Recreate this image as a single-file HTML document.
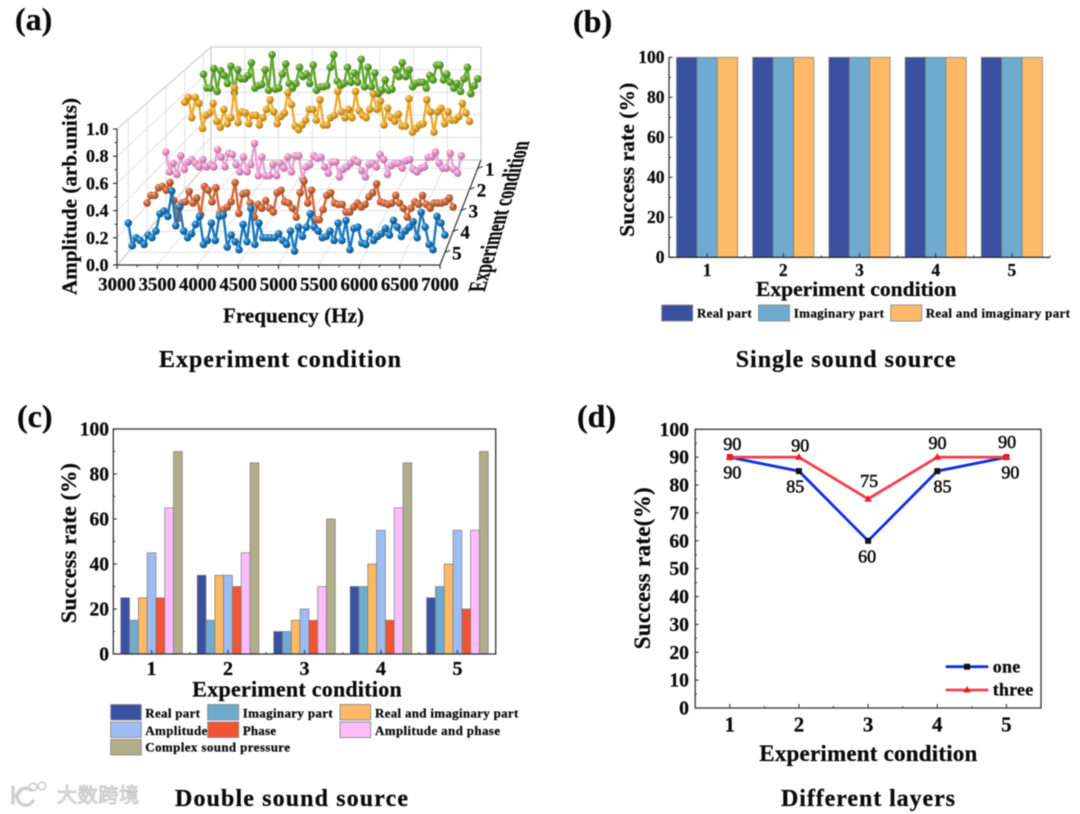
<!DOCTYPE html>
<html lang="en">
<head>
<meta charset="utf-8">
<title>Sound source experiment charts</title>
<style>
html,body{margin:0;padding:0;background:#fff;width:1080px;height:814px;overflow:hidden}
svg{display:block;filter:blur(.55px)}
text{font-family:"Liberation Serif","Noto Sans CJK SC",serif;font-weight:bold;fill:#0a0a0a;stroke:#0a0a0a;stroke-width:.25}
</style>
</head>
<body>
<svg id="figure" xmlns="http://www.w3.org/2000/svg" width="1080" height="814" viewBox="0 0 1080 814">
<defs>
<radialGradient id="ball-blue" cx="35%" cy="30%" r="75%"><stop offset="0" stop-color="#8cc8f0"/><stop offset=".4" stop-color="#1a78bd"/><stop offset="1" stop-color="#0d4f86"/></radialGradient>
<radialGradient id="ball-orange" cx="35%" cy="30%" r="75%"><stop offset="0" stop-color="#f0b090"/><stop offset=".4" stop-color="#cc6a3c"/><stop offset="1" stop-color="#94431f"/></radialGradient>
<radialGradient id="ball-pink" cx="35%" cy="30%" r="75%"><stop offset="0" stop-color="#fbdcf0"/><stop offset=".4" stop-color="#e595c8"/><stop offset="1" stop-color="#b9689c"/></radialGradient>
<radialGradient id="ball-yellow" cx="35%" cy="30%" r="75%"><stop offset="0" stop-color="#f8d890"/><stop offset=".4" stop-color="#e6a52a"/><stop offset="1" stop-color="#a87410"/></radialGradient>
<radialGradient id="ball-green" cx="35%" cy="30%" r="75%"><stop offset="0" stop-color="#c0e090"/><stop offset=".4" stop-color="#62a830"/><stop offset="1" stop-color="#3e7a18"/></radialGradient>
</defs>

<g id="panel-a">
  <text x="15" y="30" font-size="32">(a)</text>
  <g id="a-grid"></g>
  <g id="a-axes"></g>
  <g id="a-series"></g>
  <text transform="translate(76.5,295) rotate(-90)" font-size="21" textLength="197">Amplitude (arb.units)</text>
  <text x="223" y="322.5" font-size="21" textLength="141">Frequency (Hz)</text>
  <text transform="matrix(.287 -.958 1.18 0 484.5 291.7)" font-size="21" textLength="157" lengthAdjust="spacingAndGlyphs">Experiment condition</text>
  <text x="159" y="367" font-size="24" textLength="242">Experiment condition</text>
</g>

<g id="panel-b">
  <text x="573" y="32" font-size="32">(b)</text>
  <g id="b-plot"></g>
  <text transform="translate(634,236.7) rotate(-90)" font-size="21.5" textLength="154">Success rate (%)</text>
  <text x="756" y="296" font-size="21.5" textLength="200.5">Experiment condition</text>
  <g>
    <rect x="661.7" y="305" width="31" height="16" fill="#3a50a0" stroke="#8a8a8a" stroke-width=".9"/>
    <text x="697" y="317.7" font-size="13" textLength="54.7">Real part</text>
    <rect x="758.5" y="305" width="31" height="16" fill="#6eabcf" stroke="#8a8a8a" stroke-width=".9"/>
    <text x="793.7" y="317.7" font-size="13" textLength="90.3">Imaginary part</text>
    <rect x="890.7" y="305" width="31" height="16" fill="#fdb966" stroke="#8a8a8a" stroke-width=".9"/>
    <text x="925.7" y="317.7" font-size="13" textLength="144.3">Real and imaginary part</text>
  </g>
  <text x="735.7" y="367" font-size="24" textLength="220">Single sound source</text>
</g>

<g id="panel-c">
  <text x="17" y="427" font-size="32">(c)</text>
  <g id="c-plot"></g>
  <text transform="translate(76,623.3) rotate(-90)" font-size="22.5" textLength="160.3">Success rate (%)</text>
  <text x="192.3" y="696.7" font-size="22" textLength="209.4">Experiment condition</text>
  <g>
    <rect x="110.7" y="704.5" width="30.6" height="15.5" fill="#3a50a0" stroke="#8a8a8a" stroke-width=".9"/>
    <text x="145.3" y="717.3" font-size="13" textLength="54.7">Real part</text>
    <rect x="207.7" y="704.5" width="31" height="15.5" fill="#6eabcf" stroke="#8a8a8a" stroke-width=".9"/>
    <text x="242.7" y="717.3" font-size="13" textLength="90">Imaginary part</text>
    <rect x="340" y="704.5" width="30.7" height="15.5" fill="#fdb966" stroke="#8a8a8a" stroke-width=".9"/>
    <text x="375" y="717.3" font-size="13" textLength="143.3">Real and imaginary part</text>
    <rect x="110.7" y="722" width="30.6" height="15.5" fill="#9dbdf2" stroke="#8a8a8a" stroke-width=".9"/>
    <text x="145.3" y="735" font-size="13" textLength="62">Amplitude</text>
    <rect x="207.7" y="722" width="31" height="15.5" fill="#ef5533" stroke="#8a8a8a" stroke-width=".9"/>
    <text x="242.7" y="735" font-size="13" textLength="33.3">Phase</text>
    <rect x="340" y="722" width="30.7" height="15.5" fill="#fdbdfd" stroke="#8a8a8a" stroke-width=".9"/>
    <text x="375" y="735" font-size="13" textLength="125">Amplitude and phase</text>
    <rect x="110.7" y="739.5" width="30.6" height="15.5" fill="#b0ae8a" stroke="#8a8a8a" stroke-width=".9"/>
    <text x="145.3" y="751.7" font-size="13" textLength="144.7">Complex sound pressure</text>
  </g>
  <text x="175" y="806" font-size="24" textLength="233">Double sound source</text>
</g>

<g id="panel-d">
  <text x="577" y="427" font-size="32">(d)</text>
  <g id="d-plot"></g>
  <text transform="translate(650,649.3) rotate(-90)" font-size="23" textLength="162">Success rate(%)</text>
  <text x="759.3" y="761" font-size="23" textLength="218">Experiment condition</text>
  <g>
    <line x1="945.7" x2="988.3" y1="666.7" y2="666.7" stroke="#1030e0" stroke-width="2.8"/>
    <rect x="964" y="663.7" width="6" height="6" fill="#111"/>
    <text x="992.7" y="672.7" font-size="18" textLength="27.5">one</text>
    <line x1="945.7" x2="988.3" y1="690" y2="690" stroke="#f04050" stroke-width="2.8"/>
    <path d="M967 686l3.6 6.5h-7.2z" fill="#ee1c25"/>
    <text x="992.7" y="695.7" font-size="18" textLength="40.5">three</text>
  </g>
  <text x="781" y="806" font-size="24" textLength="174">Different layers</text>
</g>

<g>
  <path d="M13 787v16M16 796l6-7M31 790a8.5 8.5 0 1 0 2 11" fill="none" stroke="#cfcfcf" stroke-width="3.4" stroke-linecap="round"/>
  <circle cx="33" cy="787" r="3.8" fill="none" stroke="#cfcfcf" stroke-width="1.6"/>
  <circle cx="42" cy="786" r="3.8" fill="none" stroke="#cfcfcf" stroke-width="1.6"/>
  <text x="57" y="802" font-size="20" textLength="82" style="font-family:'Noto Sans CJK SC',sans-serif;font-weight:normal;fill:#f2f2f2;stroke:#c8c8c8;stroke-width:1">大数跨境</text>
</g>
</svg>

<script>
// ---------- Panel (a) data ----------
const freqStart = 3000;
const freqStep = 50;
const ampTicks = ['0.0','0.2','0.4','0.6','0.8','1.0'];
const freqTicks = [3000,3500,4000,4500,5000,5500,6000,6500,7000];
const conditions = [1,2,3,4,5];
const ampGreen = [.82,.70,.70,.87,.67,.85,.81,.74,.89,.66,.86,.78,.78,.81,.92,.70,.72,.73,.86,.68,.99,.69,.70,.82,.91,.74,.70,.74,.88,.80,.82,.74,.90,.68,.71,.71,.72,.88,.99,.76,.72,.74,.88,.75,.83,.75,.95,.71,.88,.71,.83,.65,.68,.77,.68,.69,.86,.80,.92,.80,.86,.71,.74,.75,.75,.70,.81,.77,.90,.90,.77,.82,.75,.70,.74,.67,.78,.88,.65,.72,.78];
const ampYellow = [.73,.77,.60,.77,.72,.51,.62,.64,.72,.57,.52,.67,.55,.60,.85,.56,.65,.64,.55,.62,.62,.54,.60,.67,.75,.65,.55,.61,.64,.81,.71,.53,.50,.54,.58,.67,.67,.58,.75,.54,.54,.60,.62,.82,.65,.60,.67,.60,.82,.66,.62,.60,.67,.80,.67,.74,.54,.68,.60,.57,.63,.53,.53,.76,.48,.51,.54,.55,.75,.65,.48,.65,.68,.55,.65,.58,.58,.61,.72,.64,.57];
const ampPink = [.47,.31,.38,.29,.44,.33,.39,.41,.38,.35,.41,.35,.37,.35,.49,.43,.35,.46,.45,.37,.31,.43,.31,.37,.54,.28,.43,.28,.28,.37,.28,.38,.34,.43,.31,.44,.44,.26,.35,.37,.44,.42,.43,.35,.30,.39,.39,.27,.33,.35,.38,.41,.39,.32,.27,.37,.38,.35,.45,.41,.29,.36,.38,.38,.34,.40,.41,.33,.31,.34,.35,.43,.43,.47,.38,.34,.34,.46,.33,.30,.44];
const ampOrange = [.22,.28,.28,.34,.35,.32,.38,.24,.10,.22,.23,.31,.22,.26,.13,.35,.32,.23,.34,.14,.17,.19,.23,.38,.14,.29,.30,.22,.11,.21,.18,.24,.18,.15,.30,.32,.23,.22,.18,.11,.30,.39,.22,.32,.09,.09,.17,.28,.30,.22,.21,.21,.15,.15,.19,.22,.19,.21,.27,.30,.37,.23,.22,.21,.22,.28,.22,.18,.11,.18,.23,.21,.28,.21,.18,.22,.22,.22,.23,.26,.19];
const ampBlue = [.22,.05,.11,.09,.06,.13,.11,.16,.29,.31,.27,.46,.20,.34,.16,.11,.14,.21,.27,.06,.09,.22,.09,.27,.28,.04,.13,.08,.02,.21,.08,.33,.06,.22,.11,.11,.11,.11,.14,.09,.06,.16,.01,.19,.12,.19,.29,.19,.16,.11,.12,.16,.09,.22,.09,.24,.02,.18,.19,.07,.06,.15,.09,.12,.14,.18,.13,.24,.19,.12,.16,.19,.23,.11,.30,.19,.06,.02,.27,.22,.13];

// ---------- Panel (b) data ----------
const categories = [1,2,3,4,5];
const singleReal = [100,100,100,100,100];
const singleImaginary = [100,100,100,100,100];
const singleRealImaginary = [100,100,100,100,100];
const singleTicks = [0,20,40,60,80,100];

// ---------- Panel (c) data ----------
const doubleReal = [25,35,10,30,25];
const doubleImaginary = [15,15,10,30,30];
const doubleRealImaginary = [25,35,15,40,40];
const doubleAmplitude = [45,35,20,55,55];
const doublePhase = [25,30,15,15,20];
const doubleAmplitudePhase = [65,45,30,65,55];
const doubleComplex = [90,85,60,85,90];
const doubleTicks = [0,20,40,60,80,100];

// ---------- Panel (d) data ----------
const layersOne = [90,85,60,85,90];
const layersThree = [90,90,75,90,90];
const layerTicks = [0,10,20,30,40,50,60,70,80,90,100];

const NS = 'http://www.w3.org/2000/svg';
function add(parent, tag, attrs, text) {
  const el = document.createElementNS(NS, tag);
  for (const k in attrs) el.setAttribute(k, attrs[k]);
  if (text !== undefined) el.textContent = text;
  parent.appendChild(el);
  return el;
}

// ---------- Panel (a) projection ----------
const P = {fl:117, fr:440, bl:211, br:481, fy:265, by:160, fh:136, bh:113};
const depthOf = c => 0.12 + 0.2 * (5 - c);
const lerp = (a, b, t) => a + (b - a) * t;
const leftAt = t => lerp(P.fl, P.bl, t);
const rightAt = t => lerp(P.fr, P.br, t);
const baseAt = t => lerp(P.fy, P.by, t);
const heightAt = t => lerp(P.fh, P.bh, t);
const projX = (f, t) => lerp(leftAt(t), rightAt(t), (f - 3000) / 4000);
const projY = (a, t) => baseAt(t) - a * heightAt(t);

(function drawWalls() {
  const g = document.getElementById('a-grid');
  const gridLine = (x1, y1, x2, y2, col) => add(g, 'line', {x1, y1, x2, y2, stroke: col, 'stroke-width': 1});
  const light = '#e0e0e0';
  const outer = '#c4c4c4';
  ampTicks.forEach(lab => {
    const a = parseFloat(lab);
    const l1 = gridLine(projX(3000, 0), projY(a, 0), projX(3000, 1), projY(a, 1), a === 1 ? outer : light);
    
    
    const l2 = gridLine(projX(3000, 1), projY(a, 1), projX(7000, 1), projY(a, 1), a === 1 || a === 0 ? outer : light);
    
    
  });
  freqTicks.forEach(f => {
    const l1 = gridLine(projX(f, 1), projY(0, 1), projX(f, 1), projY(1, 1), f === 3000 || f === 7000 ? outer : light);
    
    
    const l2 = gridLine(projX(f, 0), projY(0, 0), projX(f, 1), projY(0, 1), f === 3000 ? outer : light);
    
    
  });
  conditions.forEach(c => {
    const t = depthOf(c);
    const l1 = gridLine(projX(3000, t), projY(0, t), projX(7000, t), projY(0, t), light);
    
    
    const l2 = gridLine(projX(3000, t), projY(0, t), projX(3000, t), projY(1, t), light);
    
    
  });
})();

(function drawAAxes() {
  const g = document.getElementById('a-axes');
  const stroke = '#333';
  const yAxis = add(g, 'line', {x1: P.fl, x2: P.fl, y1: projY(0, 0), y2: projY(1, 0), stroke, 'stroke-width': 1.2});
  
  
  const xAxis = add(g, 'line', {x1: P.fl, x2: P.fr, y1: P.fy, y2: P.fy, stroke, 'stroke-width': 1.2});
  
  
  const zAxis = add(g, 'line', {x1: P.fr, y1: P.fy, x2: P.br, y2: P.by, stroke, 'stroke-width': 1.2});
  
  
  ampTicks.forEach(lab => {
    const a = parseFloat(lab);
    const y = projY(a, 0);
    const tick = add(g, 'line', {x1: P.fl - 4, x2: P.fl, y1: y, y2: y, stroke, 'stroke-width': 1.2});
    
    
    const txt = add(g, 'text', {x: 108.5, y: y + 6, 'text-anchor': 'end', 'font-size': 18}, lab);
    
    
    if (a < 1) {
      const ym = projY(a + 0.1, 0);
      const minor = add(g, 'line', {x1: P.fl - 2.5, x2: P.fl, y1: ym, y2: ym, stroke, 'stroke-width': 1});
      
      
    }
  });
  freqTicks.forEach(f => {
    const x = projX(f, 0);
    const tick = add(g, 'line', {x1: x, x2: x, y1: P.fy, y2: P.fy + 4, stroke, 'stroke-width': 1.2});
    
    
    const txt = add(g, 'text', {x: x, y: 290.5, 'text-anchor': 'middle', 'font-size': 18.8}, f);
    
    
    if (f < 7000) {
      const xm = projX(f + 250, 0);
      const minor = add(g, 'line', {x1: xm, x2: xm, y1: P.fy, y2: P.fy + 2.5, stroke, 'stroke-width': 1});
      
      
    }
  });
  conditions.forEach(c => {
    const t = depthOf(c);
    const x = rightAt(t);
    const y = baseAt(t);
    const tick = add(g, 'line', {x1: x, y1: y, x2: x + 5, y2: y - 2, stroke, 'stroke-width': 1.1});
    
    
    const txt = add(g, 'text', {x: x + 12, y: y + 7, 'text-anchor': 'middle', 'font-size': 19}, c);
    
    
  });
})();

function drawRibbon(values, condition, color, gradient, name) {
  const g = add(document.getElementById('a-series'), 'g', {});
  
  
  const t = depthOf(condition);
  const pts = values.map((a, i) => [projX(freqStart + i * freqStep, t), projY(a, t)]);
  const line = add(g, 'polyline', {points: pts.map(p => p[0].toFixed(1) + ',' + p[1].toFixed(1)).join(' '), fill: 'none', stroke: color, 'stroke-width': 2.4});
  
  
  pts.forEach(p => {
    const dot = add(g, 'circle', {cx: p[0], cy: p[1], r: 3.8, fill: 'url(#' + gradient + ')'});
    
    
  });
}
drawRibbon(ampGreen, 1, '#62a830', 'ball-green', 'condition-1-series');
drawRibbon(ampYellow, 2, '#eeaa2c', 'ball-yellow', 'condition-2-series');
drawRibbon(ampPink, 3, '#e9a0d0', 'ball-pink', 'condition-3-series');
drawRibbon(ampOrange, 4, '#d0683a', 'ball-orange', 'condition-4-series');
drawRibbon(ampBlue, 5, '#1a78bd', 'ball-blue', 'condition-5-series');

// ---------- Shared 2D axes ----------
function axes(box) {
  return {
    x: c => box.left + (c - 0.5) / 5 * (box.right - box.left),
    y: v => box.bottom - v / 100 * (box.bottom - box.top)
  };
}
function drawFrame(g, box, sc, yTicks, opts) {
  const stroke = '#333';
  if (opts.frame) {
    const fr = add(g, 'rect', {x: box.left, y: box.top, width: box.right - box.left, height: box.bottom - box.top, fill: 'none', stroke, 'stroke-width': 1.3});
    
    
  } else {
    const ax = add(g, 'path', {d: 'M' + box.left + ' ' + box.top + 'V' + box.bottom + 'H' + box.right, fill: 'none', stroke, 'stroke-width': 1.3});
    
    
  }
  yTicks.forEach((v, i) => {
    const y = sc.y(v);
    const t = add(g, 'line', {x1: box.left, x2: box.left + 3.5, y1: y, y2: y, stroke, 'stroke-width': 1.1});
    
    
    const lab = add(g, 'text', {x: opts.yLabelX, y: y + opts.yLabelDy, 'text-anchor': 'end', 'font-size': opts.yFont}, v);
    
    
    if (i < yTicks.length - 1) {
      const ym = sc.y((v + yTicks[i + 1]) / 2);
      const m = add(g, 'line', {x1: box.left, x2: box.left + 2, y1: ym, y2: ym, stroke, 'stroke-width': .9});
      
      
    }
  });
  categories.forEach(c => {
    const x = sc.x(c);
    const t = add(g, 'line', {x1: x, x2: x, y1: box.bottom, y2: box.bottom - 4, stroke, 'stroke-width': 1.1});
    
    
    const lab = add(g, 'text', {x: x, y: opts.xLabelY, 'text-anchor': 'middle', 'font-size': opts.xFont}, c);
    
    
    const m = add(g, 'line', {x1: sc.x(c + .5), x2: sc.x(c + .5), y1: box.bottom, y2: box.bottom - 2, stroke, 'stroke-width': .9});
    
    
  });
}
function drawBars(g, sc, bottom, seriesList, colors, barWidth, name) {
  seriesList.forEach((vals, j) => {
    vals.forEach((v, i) => {
      const x = sc.x(categories[i]) + (j - (seriesList.length - 1) / 2 - .5) * barWidth;
      const y = sc.y(v);
      const b = add(g, 'rect', {x: x, y: y, width: barWidth, height: bottom - y, fill: colors[j], stroke: '#7c7c7c', 'stroke-width': .7});
      
      
    });
  });
}

// ---------- Panel (b) ----------
(function () {
  const g = document.getElementById('b-plot');
  const box = {left: 669, right: 1050, top: 57.3, bottom: 257.3};
  const sc = axes(box);
  drawBars(g, sc, box.bottom, [singleReal, singleImaginary, singleRealImaginary], ['#3a50a0', '#6eabcf', '#fdb966'], 20.4, 'b');
  drawFrame(g, box, sc, singleTicks, {name: 'b', frame: false, yLabelX: 664.5, yLabelDy: 5.5, yFont: 17.5, xLabelY: 276, xFont: 17.5});
})();

// ---------- Panel (c) ----------
(function () {
  const g = document.getElementById('c-plot');
  const box = {left: 113.3, right: 495.7, top: 429, bottom: 654};
  const sc = axes(box);
  drawBars(g, sc, box.bottom,
    [doubleReal, doubleImaginary, doubleRealImaginary, doubleAmplitude, doublePhase, doubleAmplitudePhase, doubleComplex],
    ['#3a50a0', '#6eabcf', '#fdb966', '#9dbdf2', '#ef5533', '#fdbdfd', '#b0ae8a'], 8.8, 'c');
  drawFrame(g, box, sc, doubleTicks, {name: 'c', frame: true, yLabelX: 109, yLabelDy: 6.3, yFont: 19.5, xLabelY: 675, xFont: 20});
})();

// ---------- Panel (d) ----------
(function () {
  const g = document.getElementById('d-plot');
  const box = {left: 695.2, right: 1041, top: 429.3, bottom: 708};
  const sc = axes(box);
  drawFrame(g, box, sc, layerTicks, {name: 'd', frame: true, yLabelX: 689, yLabelDy: 6.5, yFont: 19.7, xLabelY: 731.7, xFont: 21});
  const toPts = vals => vals.map((v, i) => sc.x(categories[i]).toFixed(1) + ',' + sc.y(v).toFixed(1)).join(' ');
  const lineOne = add(g, 'polyline', {points: toPts(layersOne), fill: 'none', stroke: '#1030e0', 'stroke-width': 2.8});
  
  
  const lineThree = add(g, 'polyline', {points: toPts(layersThree), fill: 'none', stroke: '#f04050', 'stroke-width': 2.8});
  
  
  layersOne.forEach((v, i) => {
    const x = sc.x(categories[i]);
    const y = sc.y(v);
    const m = add(g, 'rect', {x: x - 3, y: y - 3, width: 6, height: 6, fill: v === layersThree[i] ? '#b01020' : '#111'});
    
    
    const dx = [2.6, -3.7, -1, 5.3, 4][i];
    const lab = add(g, 'text', {x: x + dx, y: y + 21.5, 'text-anchor': 'middle', 'font-size': 18, style: 'font-weight:normal;stroke-width:.55'}, v);
    
    
  });
  layersThree.forEach((v, i) => {
    const x = sc.x(categories[i]);
    const y = sc.y(v);
    const m = add(g, 'path', {d: 'M' + x + ' ' + (y - 4) + 'l3.8 6.6h-7.6z', fill: '#ee1c25'});
    
    
    const dx = [2.6, 1.3, 1, .3, .7][i];
    const dy = [-7, -5.5, -12, -8, -9][i];
    const lab = add(g, 'text', {x: x + dx, y: y + dy, 'text-anchor': 'middle', 'font-size': 18, style: 'font-weight:normal;stroke-width:.55'}, v);
    
    
  });
})();
</script>
</body>
</html>
